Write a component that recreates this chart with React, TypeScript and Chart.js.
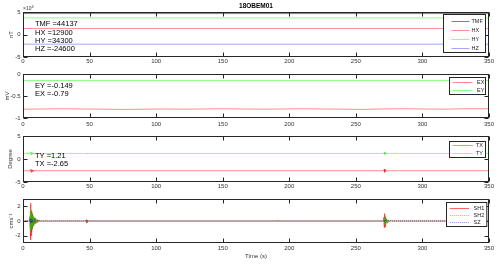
import React, { useEffect, useRef } from "react";
import { Chart, registerables } from "chart.js";

Chart.register(...registerables);

const FONT = '"Liberation Sans", Arial, Helvetica, sans-serif';

const timeTicks = [0, 50, 100, 150, 200, 250, 300, 350];

// Panel 1: magnetic field (nT)
const magTicks = [-50000, 0, 50000];
const magLabels = ["TMF", "HX", "HY", "HZ"];
const tmfLine = [[0, 46500], [350, 46500]];
const hxLine = [[0, 13500], [350, 13500]];
const hyLine = [[0, 37000], [350, 37000]];
const hzLine = [[0, -21500], [350, -21500]];
const magNotes = ["TMF =44137", "HX =12900", "HY =34300", "HZ =-24600"];

// Panel 2: electric field (mV)
const elecTicks = [-1, -0.5, 0];
const elecLabels = ["EX", "EY"];
const exLine = [
  [0, -0.8], [15, -0.795], [30, -0.79], [45, -0.795], [60, -0.8], [75, -0.805], [90, -0.8],
  [105, -0.795], [120, -0.8], [135, -0.795], [150, -0.79], [165, -0.795], [180, -0.8],
  [195, -0.795], [210, -0.79], [225, -0.795], [240, -0.8], [255, -0.805], [270, -0.795],
  [285, -0.79], [300, -0.795], [315, -0.8], [330, -0.79], [350, -0.79],
];
const eyLine = [[0, -0.149], [350, -0.149]];
const elecNotes = ["EY =-0.149", "EX =-0.79"];

// Panel 3: tilt (Degree)
const tiltTicks = [-5, 0, 5];
const tiltLabels = ["TX", "TY"];
const txLine = [
  [0, -2.55], [5.5, -2.55], [5.8, -2.2], [6.1, -2.9], [6.4, -2.3], [6.7, -2.8], [7.0, -2.4],
  [7.4, -2.7], [7.8, -2.45], [8.3, -2.62], [9, -2.5], [10, -2.58], [12, -2.53], [14, -2.55],
  [271, -2.55], [271.3, -2.2], [271.6, -2.9], [271.9, -2.3], [272.2, -2.75], [272.6, -2.45],
  [273, -2.62], [273.5, -2.5], [274.2, -2.57], [276, -2.54], [278, -2.55], [350, -2.55],
];
const tyLine = [
  [0, 1.21], [5.5, 1.21], [5.8, 1.5], [6.1, 0.95], [6.4, 1.45], [6.7, 1.0], [7.0, 1.35],
  [7.4, 1.1], [7.8, 1.3], [8.3, 1.15], [9, 1.25], [10, 1.2], [12, 1.22], [14, 1.21],
  [48, 1.21], [48.3, 1.3], [48.6, 1.15], [49, 1.21],
  [271, 1.21], [271.3, 1.45], [271.6, 1.0], [271.9, 1.4], [272.2, 1.05], [272.6, 1.3],
  [273, 1.15], [273.5, 1.25], [274.2, 1.2], [276, 1.22], [278, 1.21], [350, 1.21],
];
const tiltNotes = ["TY =1.21", "TX =-2.65"];

// Panel 4: seismometer (cm/s)
const seisTicks = [-2, 0, 2];
const seisLabels = ["SH1", "SH2", "SZ"];
const sh1Trace = [
  [0, 0], [5, 0], [5.2, 0.6], [5.4, -0.9], [5.6, 2.4], [5.8, -2.6], [6.0, 1.9], [6.2, -2.0],
  [6.4, 1.4], [6.6, -1.5], [6.8, 1.0], [7.0, -1.1], [7.3, 0.8], [7.6, -0.7], [7.9, 0.6],
  [8.2, -0.5], [8.6, 0.4], [9.0, -0.35], [9.5, 0.3], [10, -0.25], [10.5, 0.2], [11, -0.18],
  [12, 0.15], [13, -0.1], [14, 0.08], [15, -0.06], [17, 0.04], [19, -0.03], [22, 0],
  [47, 0], [47.5, 0.15], [48, -0.25], [48.5, 0.1], [49, 0],
  [270.5, 0], [271, 0.5], [271.3, -0.9], [271.6, 1.0], [271.9, -0.8], [272.2, 0.6],
  [272.5, -0.5], [273, 0.3], [273.5, -0.25], [274, 0.15], [275, -0.1], [276, 0.06],
  [278, 0], [350, 0],
];
const sh2Trace = [
  [0, 0], [4.8, 0], [5.0, 0.5], [5.2, -0.8], [5.4, 1.3], [5.6, -1.5], [5.8, 1.6], [6.0, -1.4],
  [6.2, 1.3], [6.4, -1.2], [6.6, 1.1], [6.8, -1.0], [7.0, 0.9], [7.2, -0.9], [7.4, 0.8],
  [7.6, -0.75], [7.8, 0.7], [8.0, -0.6], [8.3, 0.55], [8.6, -0.5], [8.9, 0.45], [9.2, -0.4],
  [9.6, 0.35], [10, -0.3], [10.5, 0.25], [11, -0.2], [11.5, 0.18], [12, -0.15], [13, 0.1],
  [14, -0.08], [15, 0.05], [17, -0.03], [19, 0],
  [47.5, 0], [47.8, 0.25], [48.1, -0.2], [48.4, 0.1], [48.8, 0],
  [190.5, 0], [190.8, 0.12], [191.1, -0.1], [191.4, 0],
  [271, 0], [271.2, 0.3], [271.4, -0.5], [271.6, 0.6], [271.8, -0.55], [272, 0.5],
  [272.2, -0.45], [272.4, 0.4], [272.7, -0.35], [273, 0.3], [273.3, -0.25], [273.7, 0.2],
  [274.1, -0.18], [274.5, 0.15], [275, -0.12], [275.6, 0.1], [276.2, -0.08], [277, 0.06],
  [278, -0.04], [279.5, 0.02], [281, 0], [350, 0],
];
const szTrace = [
  [0, 0], [5, 0], [5.3, 0.25], [5.6, -0.3], [5.9, 0.3], [6.2, -0.25], [6.5, 0.2], [6.8, -0.2],
  [7.2, 0.15], [7.6, -0.12], [8, 0.1], [9, -0.06], [10, 0.04], [12, 0],
  [271, 0], [271.3, 0.1], [271.6, -0.12], [272, 0.08], [272.5, -0.05], [273, 0], [350, 0],
];

const RED = "rgba(255,0,0,0.45)";
const GREEN = "rgba(0,255,0,0.45)";
const BLUE = "rgba(0,0,255,0.35)";
const BLACK = "rgba(0,0,0,0.5)";

const toXY = (pairs: number[][]) => pairs.map(([x, y]) => ({ x, y }));

function ds(label: string, pairs: number[][], color: string, dash: number[] = [], order = 0) {
  return {
    label,
    data: toXY(pairs),
    borderColor: color,
    backgroundColor: color,
    borderWidth: 1,
    borderDash: dash,
    pointRadius: 0,
    tension: 0,
    fill: false,
    order,
  };
}

type LegendCfg = { dx: number; dy: number; w: number; h: number; row0: number; rowStep: number; l0: number; l1: number; tx: number };
type PanelCfg = {
  top: number; height: number; padTop: number; xHeight: number; xPad: number; yTitlePad: number;
  yMin: number; yMax: number; yTicks: number[]; yFmt: (v: number) => string; yTitle: string;
  datasets: any[]; notes: string[]; noteX: number; noteY: number[]; legend: LegendCfg;
  title?: string; exponent?: boolean; xTitle?: string;
};

function makeDecor(cfg: PanelCfg) {
  return {
    id: "decor",
    afterDatasetsDraw(chart: any) {
      const { ctx, chartArea: a, scales } = chart;
      const L = Math.round(a.left) + 0.5;
      const R = Math.round(a.right) - 0.5;
      const T = Math.round(a.top) + 0.5;
      const B = Math.round(a.bottom) - 0.5;
      ctx.save();
      ctx.strokeStyle = "#262626";
      ctx.lineWidth = 1;
      ctx.strokeRect(L, T, R - L, B - T);
      ctx.beginPath();
      const tl = 4;
      for (const v of timeTicks) {
        const px = Math.round(scales.x.getPixelForValue(v)) + 0.5;
        ctx.moveTo(px, B); ctx.lineTo(px, B - tl);
        ctx.moveTo(px, T); ctx.lineTo(px, T + tl);
      }
      for (const v of cfg.yTicks) {
        const py = Math.round(scales.y.getPixelForValue(v)) + 0.5;
        ctx.moveTo(L, py); ctx.lineTo(L + tl, py);
        ctx.moveTo(R, py); ctx.lineTo(R - tl, py);
      }
      ctx.stroke();

      // annotations
      ctx.fillStyle = "#000";
      ctx.font = `7.5px ${FONT}`;
      ctx.textBaseline = "middle";
      ctx.textAlign = "left";
      cfg.notes.forEach((t, i) => ctx.fillText(t, a.left + cfg.noteX, a.top + cfg.noteY[i]));

      // legend
      const lg = cfg.legend;
      const bx = Math.round(a.right + lg.dx) + 0.5;
      const by = Math.round(a.top + lg.dy) + 0.5;
      ctx.fillStyle = "#fff";
      ctx.fillRect(bx, by, lg.w, lg.h);
      ctx.strokeStyle = "#262626";
      ctx.strokeRect(bx, by, lg.w, lg.h);
      ctx.font = `5.5px ${FONT}`;
      chart.data.datasets.forEach((d: any, i: number) => {
        const y = Math.round(by + lg.row0 + i * lg.rowStep) + 0.5;
        ctx.beginPath();
        ctx.strokeStyle = d.borderColor;
        ctx.setLineDash(d.borderDash || []);
        ctx.moveTo(bx + lg.l0, y);
        ctx.lineTo(bx + lg.l1, y);
        ctx.stroke();
        ctx.setLineDash([]);
        ctx.fillStyle = "#222";
        ctx.fillText(d.label, bx + lg.tx, y);
      });

      if (cfg.title) {
        ctx.fillStyle = "#000";
        ctx.font = `bold 6.5px ${FONT}`;
        ctx.textAlign = "center";
        ctx.fillText(cfg.title, (a.left + a.right) / 2, 6.5);
      }
      if (cfg.exponent) {
        ctx.fillStyle = "#333";
        ctx.textAlign = "left";
        ctx.textBaseline = "alphabetic";
        ctx.font = `5px ${FONT}`;
        ctx.fillText("\u00d710", a.left, 9.5);
        ctx.font = `4px ${FONT}`;
        ctx.fillText("4", a.left + 8.5, 7.5);
      }
      ctx.restore();
    },
  };
}

function Panel({ cfg }: { cfg: PanelCfg }) {
  const ref = useRef<HTMLCanvasElement | null>(null);
  useEffect(() => {
    if (!ref.current) return;
    const tickFont = { size: 6, family: FONT };
    const chart = new Chart(ref.current, {
      type: "line",
      data: { datasets: cfg.datasets },
      plugins: [makeDecor(cfg)],
      options: {
        responsive: false,
        animation: false,
        devicePixelRatio: 1,
        layout: { padding: { top: cfg.padTop, right: 11, left: 0, bottom: 0 } },
        plugins: { legend: { display: false }, tooltip: { enabled: false }, title: { display: false } },
        scales: {
          x: {
            type: "linear",
            min: 0,
            max: 350,
            grid: { display: false, drawTicks: false },
            border: { display: false },
            afterBuildTicks: (s: any) => { s.ticks = timeTicks.map((v) => ({ value: v })); },
            afterFit: (s: any) => { s.height = cfg.xHeight; },
            ticks: { padding: cfg.xPad, font: tickFont, color: "#333", maxRotation: 0, autoSkip: false },
            title: cfg.xTitle
              ? { display: true, text: cfg.xTitle, font: { size: 6, family: FONT }, color: "#333", padding: { top: 0, bottom: 4.4 } }
              : { display: false },
          },
          y: {
            type: "linear",
            min: cfg.yMin,
            max: cfg.yMax,
            grid: { display: false, drawTicks: false },
            border: { display: false },
            afterBuildTicks: (s: any) => { s.ticks = cfg.yTicks.map((v) => ({ value: v })); },
            afterFit: (s: any) => { s.width = 23; },
            ticks: { padding: 2.5, font: tickFont, color: "#333", callback: (v: any) => cfg.yFmt(Number(v)) },
            title: { display: true, text: cfg.yTitle, font: { size: 6, family: FONT }, color: "#333", padding: { top: cfg.yTitlePad, bottom: 0 } },
          },
        },
      } as any,
    });
    return () => chart.destroy();
  }, [cfg]);
  return (
    <canvas
      ref={ref}
      width={500}
      height={cfg.height}
      style={{ position: "absolute", left: 0, top: cfg.top, width: 500, height: cfg.height, display: "block" }}
    />
  );
}

const panels: PanelCfg[] = [
  {
    top: 0, height: 66, padTop: 12, xHeight: 9, xPad: 1, yTitlePad: 8,
    yMin: -50000, yMax: 50000, yTicks: magTicks, yFmt: (v) => String(v / 10000), yTitle: "nT",
    datasets: [
      ds(magLabels[0], tmfLine, BLACK),
      ds(magLabels[1], hxLine, RED),
      ds(magLabels[2], hyLine, GREEN),
      ds(magLabels[3], hzLine, BLUE),
    ],
    notes: magNotes, noteX: 12, noteY: [12, 20.5, 29, 37.3],
    legend: { dx: -46, dy: 2, w: 42, h: 38, row0: 6.3, rowStep: 8.9, l0: 8, l1: 26, tx: 28 },
    title: "18OBEM01", exponent: true,
  },
  {
    top: 66, height: 62, padTop: 8, xHeight: 10, xPad: 3, yTitlePad: 3.7,
    yMin: -1, yMax: 0, yTicks: elecTicks, yFmt: (v) => String(v), yTitle: "mV",
    datasets: [ds(elecLabels[0], exLine, RED), ds(elecLabels[1], eyLine, GREEN)],
    notes: elecNotes, noteX: 12, noteY: [12, 20],
    legend: { dx: -40, dy: 3.3, w: 36, h: 17, row0: 4, rowStep: 8, l0: 3, l1: 23, tx: 27.5 },
  },
  {
    top: 128, height: 62, padTop: 8, xHeight: 8, xPad: 1, yTitlePad: 6.4,
    yMin: -5, yMax: 5, yTicks: tiltTicks, yFmt: (v) => String(v), yTitle: "Degree",
    datasets: [ds(tiltLabels[0], txLine, RED), ds(tiltLabels[1], tyLine, GREEN)],
    notes: tiltNotes, noteX: 12, noteY: [20, 28.3],
    legend: { dx: -39.7, dy: 4.7, w: 36, h: 16, row0: 3.6, rowStep: 8, l0: 3, l1: 23.4, tx: 26.4 },
  },
  {
    top: 190, height: 74, padTop: 9, xHeight: 21, xPad: 1.5, yTitlePad: 8,
    yMin: -3, yMax: 3, yTicks: seisTicks, yFmt: (v) => String(v), yTitle: "cms\u207b\u00b9",
    datasets: [
      ds(seisLabels[0], sh1Trace, "rgba(255,0,0,0.6)", [], 3),
      ds(seisLabels[1], sh2Trace, "rgba(0,220,0,0.6)", [1, 1], 2),
      ds(seisLabels[2], szTrace, "rgba(0,0,255,0.5)", [1, 1], 1),
    ],
    notes: [], noteX: 12, noteY: [],
    legend: { dx: -43.3, dy: 2.7, w: 40.3, h: 24, row0: 5.3, rowStep: 7, l0: 3.3, l1: 22.6, tx: 27 },
    xTitle: "Time (s)",
  },
];

export default function App() {
  return (
    <div style={{ position: "fixed", left: 0, top: 0, width: 500, height: 264, background: "#fff", overflow: "hidden" }}>
      {panels.map((p, i) => (
        <Panel key={i} cfg={p} />
      ))}
    </div>
  );
}
